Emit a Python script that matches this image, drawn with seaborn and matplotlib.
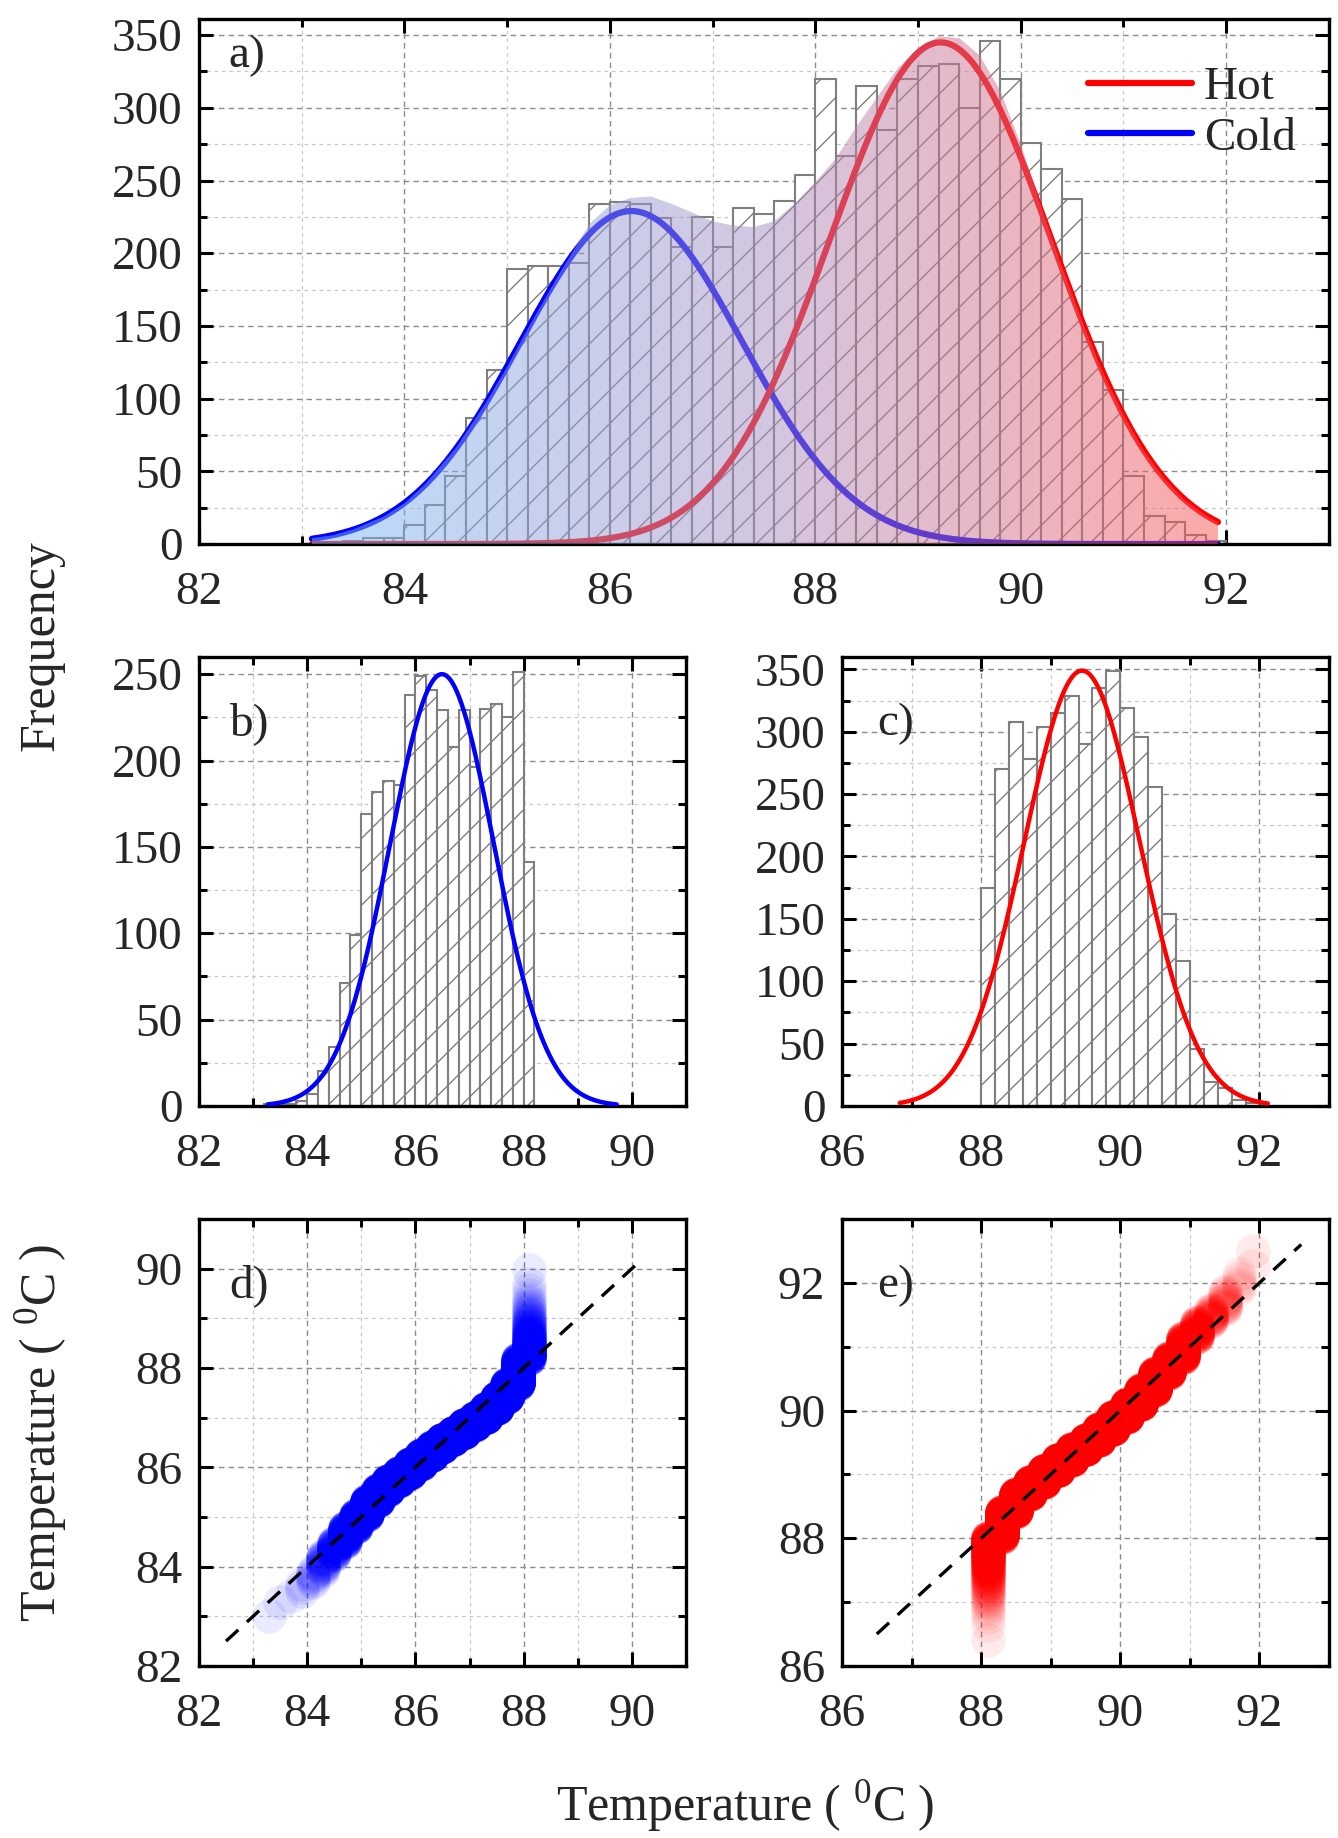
import numpy as np
import pandas as pd
import matplotlib
matplotlib.use('Agg')
import matplotlib.pyplot as plt
import seaborn as sns
from matplotlib.lines import Line2D
from matplotlib.ticker import MultipleLocator
from matplotlib.colors import LinearSegmentedColormap
from statistics import NormalDist

#
# Data
#
bin_width = 0.2

# a) all readings, bins of 0.2 starting at 83.0
all_start = 83.0
all_counts = [0, 1, 2, 4, 4, 13, 27, 47, 87, 120,
              189, 191, 191, 193, 234, 235, 234, 224, 204, 225,
              204, 231, 227, 236, 254, 320, 267, 315, 285, 320,
              329, 330, 300, 346, 320, 276, 258, 237, 139, 106,
              47, 19, 15, 6, 2]

# b) cold side, bins starting at 83.2
cold_start = 83.2
cold_counts = [1, 1, 1, 3, 7, 20, 34, 71, 99, 169,
               182, 188, 186, 238, 249, 241, 229, 208, 229, 196,
               230, 233, 225, 251, 141]

# c) hot side, bins starting at 88.0
hot_start = 88.0
hot_counts = [175, 270, 308, 278, 304, 315, 329, 290, 335, 349,
              319, 296, 256, 154, 116, 46, 19, 14, 5, 2]

# normal fits: centre, width, peak height
cold_fit_a = [86.21, 1.08, 229]
hot_fit_a = [89.22, 1.08, 345]
cold_fit = [86.49, 0.96, 250]
hot_fit = [89.45, 0.83, 349]
span_a = [83.1, 91.92]
span_b = [83.27, 89.72]
span_c = [86.83, 92.12]

# upper edge of the shaded area in a)
env_x = [83.1, 83.3, 83.5, 83.8, 84.0, 84.2, 84.5, 84.8, 85.0, 85.2,
         85.5, 85.8, 86.0, 86.2, 86.4, 86.6, 86.8, 87.0, 87.2, 87.4,
         87.6, 87.8, 88.0, 88.2, 88.4, 88.6, 88.8, 89.0, 89.2, 89.4,
         89.6, 89.8, 90.0, 90.2, 90.4, 90.6, 90.8, 91.0, 91.2, 91.4,
         91.6, 91.8, 91.92]
env_y = [4, 6, 10, 19, 28, 41, 66, 98, 122, 148,
         185, 220, 233, 238, 239, 234, 228, 222, 219, 218,
         222, 234, 249, 265, 287, 307, 327, 341, 349, 348,
         336, 312, 275, 232, 191, 153, 118, 89, 64, 45,
         30, 20, 15]

# reference lines of the quantile plots
diag_d = [82.5, 90.2]
diag_e = [86.5, 92.6]

#
# Style
#
sns.set_theme(style='white')
plt.rcParams.update({
    'font.family': ['Liberation Serif', 'DejaVu Serif'],
    'mathtext.fontset': 'custom',
    'mathtext.rm': 'Liberation Serif',
    'axes.edgecolor': 'black',
    'axes.linewidth': 2.4,
    'hatch.color': '#7f7f7f',
    'hatch.linewidth': 1.0,
})
fs = 34
bar_edge = '#7f7f7f'


def style_axis(ax, xlim, ylim, xmaj, xmin, ymaj, ymin):
    ax.set_xlim(*xlim)
    ax.set_ylim(*ylim)
    ax.xaxis.set_major_locator(MultipleLocator(xmaj))
    ax.xaxis.set_minor_locator(MultipleLocator(xmin))
    ax.yaxis.set_major_locator(MultipleLocator(ymaj))
    ax.yaxis.set_minor_locator(MultipleLocator(ymin))
    ax.grid(True, which='major', color='#8c8c8c', linestyle=(0, (4, 3)), lw=1.0)
    ax.grid(True, which='minor', color='#c8c8c8', linestyle=(0, (3, 3)), lw=0.9)
    ax.set_axisbelow(True)
    ax.tick_params(which='both', direction='in', bottom=True, left=True,
                   top=True, right=True, color='black', width=2.2,
                   labelsize=fs)
    ax.tick_params(which='major', length=10)
    ax.tick_params(which='minor', length=6)
    ax.tick_params(axis='x', which='major', pad=20)
    ax.tick_params(axis='y', which='major', pad=12)
    for s in ax.spines.values():
        s.set_color('black')
        s.set_linewidth(2.4)
    ax.set_xlabel('')
    ax.set_ylabel('')


def draw_hist(ax, start, counts):
    centres = start + bin_width * (np.arange(len(counts)) + 0.5)
    edges = start + bin_width * np.arange(len(counts) + 1)
    df = pd.DataFrame({'T': centres, 'n': counts})
    sns.histplot(data=df, x='T', weights='n', bins=list(edges), ax=ax,
                 color='white', alpha=1, edgecolor=bar_edge, linewidth=1.5,
                 hatch='/', zorder=1)


def gauss_frame(fit, span):
    x = np.linspace(span[0], span[1], 300)
    mu, sd, peak = fit
    return pd.DataFrame({'T': x, 'n': peak * np.exp(-0.5 * ((x - mu) / sd) ** 2)})


def qq_frame(start, counts, fit):
    centres = start + bin_width * (np.arange(len(counts)) + 0.5)
    sample = np.repeat(centres, counts)
    n = len(sample)
    nd = NormalDist(fit[0], fit[1])
    theo = np.array([nd.inv_cdf((i + 0.5) / n) for i in range(n)])
    return pd.DataFrame({'data': sample, 'theory': theo})


fig = plt.figure(figsize=(13.38, 18.38), dpi=100)
ax_a = fig.add_axes([0.1487, 0.7040, 0.8445, 0.2856])
ax_b = fig.add_axes([0.1487, 0.3983, 0.3640, 0.2443])
ax_c = fig.add_axes([0.6293, 0.3983, 0.3640, 0.2443])
ax_d = fig.add_axes([0.1487, 0.0936, 0.3640, 0.2432])
ax_e = fig.add_axes([0.6293, 0.0936, 0.3640, 0.2432])

#
# a) all data, both fits and the shaded envelope
#
draw_hist(ax_a, all_start, all_counts)
sns.lineplot(data=gauss_frame(cold_fit_a, span_a), x='T', y='n', ax=ax_a,
             color='#0000ff', lw=4.5, zorder=2, estimator=None)
sns.lineplot(data=gauss_frame(hot_fit_a, span_a), x='T', y='n', ax=ax_a,
             color='#ff0000', lw=4.5, zorder=2, estimator=None)

shade = ax_a.fill_between(env_x, env_y, 0, color='none', lw=0)
cmap = LinearSegmentedColormap.from_list(
    'coldhot', [(0.47, 0.72, 0.97), (0.66, 0.56, 0.76), (0.98, 0.33, 0.33)])
grad = ax_a.imshow(np.linspace(0, 1, 256).reshape(1, -1), cmap=cmap,
                   extent=[env_x[0], env_x[-1], 0, 360], aspect='auto',
                   alpha=0.5, zorder=3, interpolation='bilinear')
grad.set_clip_path(shade.get_paths()[0], ax_a.transData)

style_axis(ax_a, (82, 93), (0, 361), 2, 1, 50, 25)
handles = [Line2D([], [], color='#ff0000', lw=4.5),
           Line2D([], [], color='#0000ff', lw=4.5)]
ax_a.legend(handles, ['Hot', 'Cold'], loc='upper left',
            bbox_to_anchor=(0.787, 0.91), frameon=False, fontsize=fs,
            handlelength=2.2, handletextpad=0.25, borderpad=0,
            borderaxespad=0, labelspacing=0.15)

#
# b) cold and c) hot histograms
#
draw_hist(ax_b, cold_start, cold_counts)
sns.lineplot(data=gauss_frame(cold_fit, span_b), x='T', y='n', ax=ax_b,
             color='#0000ff', lw=3.2, zorder=3, estimator=None)
style_axis(ax_b, (82, 91), (0, 260), 2, 1, 50, 25)

draw_hist(ax_c, hot_start, hot_counts)
sns.lineplot(data=gauss_frame(hot_fit, span_c), x='T', y='n', ax=ax_c,
             color='#ff0000', lw=3.2, zorder=3, estimator=None)
style_axis(ax_c, (86, 93), (0, 360), 2, 1, 50, 25)

#
# d) and e) quantile plots
#
sns.scatterplot(data=qq_frame(cold_start, cold_counts, cold_fit), x='data',
                y='theory', ax=ax_d, s=620, color='#0000ff', alpha=0.08,
                linewidth=0, zorder=2)
ax_d.plot(diag_d, diag_d, color='black', lw=2.4, dashes=(5, 3.5), zorder=3)
style_axis(ax_d, (82, 91), (82, 91), 2, 1, 2, 1)

sns.scatterplot(data=qq_frame(hot_start, hot_counts, hot_fit), x='data',
                y='theory', ax=ax_e, s=620, color='#ff0000', alpha=0.08,
                linewidth=0, zorder=2)
ax_e.plot(diag_e, diag_e, color='black', lw=2.4, dashes=(5, 3.5), zorder=3)
style_axis(ax_e, (86, 93), (86, 93), 2, 1, 2, 1)

# panel letters
for ax, tag, x, y in [(ax_a, 'a)', 0.026, 0.93), (ax_b, 'b)', 0.062, 0.852),
                      (ax_c, 'c)', 0.072, 0.852), (ax_d, 'd)', 0.062, 0.85),
                      (ax_e, 'e)', 0.072, 0.85)]:
    ax.text(x, y, tag, transform=ax.transAxes, fontsize=fs, ha='left',
            va='center', zorder=5)

# shared axis titles
temp_label = r'Temperature ( $\mathregular{^{0}}$C )'
fig.text(0.0306, 0.6485, 'Frequency', rotation=90, fontsize=fs + 2,
         ha='center', va='center')
fig.text(0.0306, 0.2204, temp_label, rotation=90, fontsize=fs + 2,
         ha='center', va='center')
fig.text(0.5568, 0.0174, temp_label, fontsize=fs + 2, ha='center',
         va='center')

plt.savefig('out.png', dpi=100)
